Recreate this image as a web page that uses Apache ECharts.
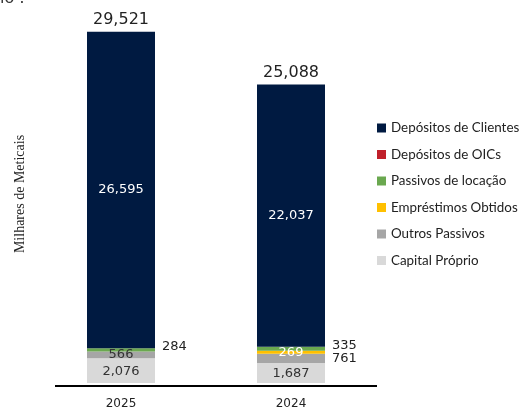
<!DOCTYPE html>
<html>
<head>
<meta charset="utf-8">
<script src="https://cdn.jsdelivr.net/npm/echarts@6/dist/echarts.min.js"></script>
<style>
  html, body { margin: 0; padding: 0; background: #fff; }
  #chart { width: 522px; height: 410px; }
</style>
</head>
<body>
<div id="chart"></div>
<script>
// Years on the category axis
var years = ['2025', '2024'];

// Stack components (bottom to top), in thousands of meticais
var capitalProprio = [2076, 1687];
var outrosPassivos = [566, 761];
var emprestimosObtidos = [0, 269];
var passivosLocacao = [284, 335];
var depositosOICs = [0, 0];
var depositosClientes = [26595, 22037];

// Column totals shown above each bar
var totals = [29521, 25088];

function fmt(v) {
  return v.toLocaleString('en-US');
}

var chart = echarts.init(document.getElementById('chart'));

var numFont = 'DejaVu Sans';

// One stacked segment; itemLabels lets single bars move their label aside
function seg(name, data, color, label, itemLabels) {
  return {
    name: name,
    type: 'bar',
    stack: 'total',
    barWidth: 68,
    data: data.map(function (v, i) {
      var item = { value: v };
      if (itemLabels && itemLabels[i]) item.label = itemLabels[i];
      return item;
    }),
    itemStyle: { color: color },
    label: Object.assign({
      show: true,
      fontFamily: numFont,
      fontSize: 13,
      formatter: function (p) { return p.value ? fmt(p.value) : ''; }
    }, label || {})
  };
}

chart.setOption({
  animation: false,
  grid: { left: 36, right: 146, top: 26, bottom: 24 },
  legend: {
    orient: 'vertical',
    left: 377,
    top: 121,
    padding: 0,
    itemWidth: 9,
    itemHeight: 9,
    itemGap: 12.5,
    icon: 'rect',
    textStyle: { fontFamily: 'Lato', fontSize: 13.4, color: '#222', lineHeight: 14 },
    data: ['Depósitos de Clientes', 'Depósitos de OICs', 'Passivos de locação',
           'Empréstimos Obtidos', 'Outros Passivos', 'Capital Próprio']
  },
  xAxis: {
    type: 'category',
    data: years,
    axisLine: { show: false },
    axisTick: { show: false },
    axisLabel: { margin: 15, fontFamily: numFont, fontSize: 12, color: '#222' }
  },
  yAxis: {
    type: 'value',
    min: 0,
    max: 30000,
    show: false
  },
  series: [
    seg('Capital Próprio', capitalProprio, '#d9d9d9',
        { position: 'inside', color: '#333', offset: [0, 1] }),
    seg('Outros Passivos', outrosPassivos, '#a6a6a6',
        { position: 'inside', color: '#333' },
        [null, { position: 'right', distance: 7, color: '#222' }]),
    seg('Empréstimos Obtidos', emprestimosObtidos, '#ffc000',
        { position: 'inside', color: '#fff' }),
    seg('Passivos de locação', passivosLocacao, '#6aa84f',
        { position: 'right', color: '#222', distance: 7, offset: [0, -3] }),
    seg('Depósitos de OICs', depositosOICs, '#c0202a', { show: false }),
    seg('Depósitos de Clientes', depositosClientes, '#001a41',
        { position: 'inside', color: '#fff' }),
    {
      name: 'totais',
      type: 'bar',
      stack: 'total',
      barWidth: 68,
      data: [0, 0],
      itemStyle: { color: 'transparent' },
      label: {
        show: true,
        position: 'top',
        distance: 4,
        fontFamily: numFont,
        fontSize: 16,
        color: '#222',
        formatter: function (p) { return fmt(totals[p.dataIndex]); }
      }
    }
  ],
  graphic: [
    {
      type: 'line',
      shape: { x1: 55, y1: 386, x2: 377, y2: 386 },
      style: { stroke: '#000', lineWidth: 2 }
    },
    {
      type: 'text',
      left: 0,
      top: -9,
      style: { text: 'io :', font: '16px "DejaVu Sans"', fill: '#333' }
    },
    {
      type: 'text',
      x: 20,
      y: 194,
      rotation: Math.PI / 2,
      style: {
        text: 'Milhares de Meticais',
        font: '14px "Liberation Serif"',
        fill: '#222',
        align: 'center',
        verticalAlign: 'middle'
      }
    }
  ]
});
</script>
</body>
</html>
